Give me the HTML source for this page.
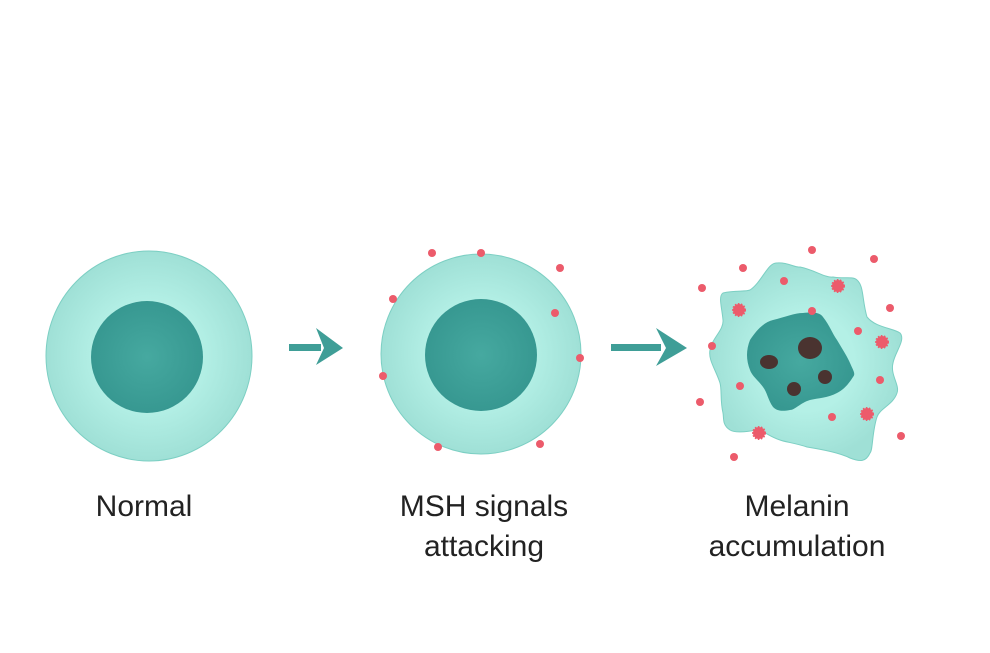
<!DOCTYPE html>
<html><head><meta charset="utf-8"><style>
html,body{margin:0;padding:0;background:#fff;}
svg{display:block;}
text{font-family:"Liberation Sans",sans-serif;font-size:30px;fill:#222;text-anchor:middle;}
</style></head><body>
<svg width="990" height="653" viewBox="0 0 990 653">
<defs>
<radialGradient id="cg" cx="50%" cy="50%" r="50%"><stop offset="0.5" stop-color="#b4f0e6"/><stop offset="1" stop-color="#9fe0d6"/></radialGradient>
<radialGradient id="ng" cx="50%" cy="50%" r="50%"><stop offset="0" stop-color="#46a9a0"/><stop offset="1" stop-color="#379891"/></radialGradient>
</defs>
<!-- cell 1 -->
<ellipse cx="149" cy="356" rx="103" ry="105" fill="url(#cg)" stroke="#7ccfc3" stroke-width="1"/>
<circle cx="147" cy="357" r="56" fill="url(#ng)"/>
<!-- arrow 1 -->
<rect x="289" y="344" width="32" height="7" fill="#3f9e97"/>
<polygon points="316,328 343,348 316,365 324,348" fill="#3f9e97"/>
<!-- cell 2 -->
<circle cx="481" cy="354" r="100" fill="url(#cg)" stroke="#7ccfc3" stroke-width="1"/>
<circle cx="481" cy="355" r="56" fill="url(#ng)"/>
<g fill="#ec5b6b">
<circle cx="481" cy="253" r="4"/><circle cx="432" cy="253" r="4"/><circle cx="560" cy="268" r="4"/><circle cx="393" cy="299" r="4"/><circle cx="555" cy="313" r="4"/><circle cx="580" cy="358" r="4"/><circle cx="383" cy="376" r="4"/><circle cx="438" cy="447" r="4"/><circle cx="540" cy="444" r="4"/>
</g>
<!-- arrow 2 -->
<rect x="611" y="344" width="50" height="7" fill="#3f9e97"/>
<polygon points="656,328 687,348 656,366 666,348" fill="#3f9e97"/>
<!-- cell 3 -->
<path d="M723,293 C735,290 745,292 750,290 C762,282 768,262 777,263 C788,262 795,268 800,267 C815,270 825,278 833,277 C845,279 853,276 857,280 C864,286 862,300 867,317 C876,328 893,328 900,333 C906,340 895,352 893,363 C890,375 900,385 897,393 C893,405 880,408 877,417 C872,432 873,450 870,453 C866,462 860,462 850,458 C840,453 825,450 807,447 C795,443 785,442 780,440 C768,436 763,430 757,430 C745,432 735,433 730,430 C722,425 724,418 723,413 C720,400 722,390 720,383 C716,370 708,360 710,350 C712,338 724,330 723,320 C722,308 718,296 723,293 Z" fill="url(#cg)" stroke="#7ccfc3" stroke-width="1"/>
<path d="M750,340 C758,328 765,322 773,320 C785,317 795,313 803,313 C812,312 820,312 823,317 C830,326 832,333 837,340 C843,350 848,358 850,363 C853,370 856,374 853,377 C848,385 843,390 837,393 C828,398 818,398 810,400 C800,403 795,410 790,410 C780,412 776,410 773,407 C768,400 767,392 763,387 C758,380 752,376 750,370 C746,360 746,350 750,340 Z" fill="url(#ng)"/>
<g fill="#4a3330">
<ellipse cx="810" cy="348" rx="12" ry="11"/>
<ellipse cx="769" cy="362" rx="9" ry="7"/>
<circle cx="825" cy="377" r="7"/>
<circle cx="794" cy="389" r="7"/>
</g>
<g fill="#ec5b6b">
<circle cx="812" cy="250" r="4"/><circle cx="874" cy="259" r="4"/><circle cx="743" cy="268" r="4"/><circle cx="784" cy="281" r="4"/><circle cx="702" cy="288" r="4"/><circle cx="890" cy="308" r="4"/><circle cx="812" cy="311" r="4"/><circle cx="858" cy="331" r="4"/><circle cx="712" cy="346" r="4"/><circle cx="880" cy="380" r="4"/><circle cx="740" cy="386" r="4"/><circle cx="700" cy="402" r="4"/><circle cx="832" cy="417" r="4"/><circle cx="901" cy="436" r="4"/><circle cx="734" cy="457" r="4"/>
</g>
<g fill="#ec5b6b" stroke="#ec5b6b" stroke-width="2" stroke-dasharray="1.5 1.5">
<circle cx="838" cy="286" r="6"/><circle cx="739" cy="310" r="6"/><circle cx="882" cy="342" r="6"/><circle cx="867" cy="414" r="6"/><circle cx="759" cy="433" r="6"/>
</g>
<text x="144" y="516">Normal</text>
<text x="484" y="516">MSH signals</text>
<text x="484" y="556">attacking</text>
<text x="797" y="516">Melanin</text>
<text x="797" y="556">accumulation</text>
</svg>
</body></html>
